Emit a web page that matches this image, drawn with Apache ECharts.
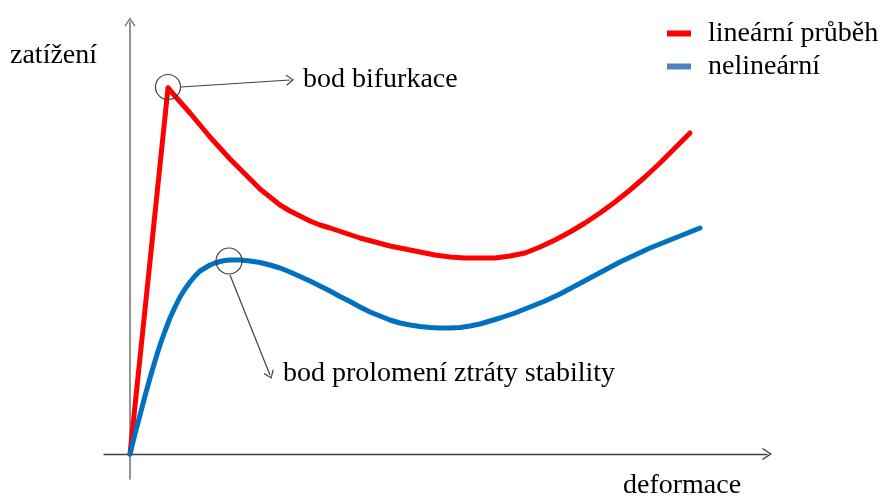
<!DOCTYPE html>
<html>
<head>
<meta charset="utf-8">
<script src="https://cdn.jsdelivr.net/npm/echarts@6/dist/echarts.min.js"></script>
<style>
  html, body { margin: 0; padding: 0; background: #fff; }
  #chart { width: 882px; height: 501px; }
</style>
</head>
<body>
<div id="chart"></div>
<script>
// data coords: x = deformace, y = zatížení (origin at the axes crossing)
const seriesNames = ['lineární průběh', 'nelineární']

// linear path: straight rise to the bifurcation point, then the post-buckling curve
const linearRise = [[0, 0], [38, 366]]
const linearCurve = [
  [38, 366], [45, 358], [52, 350], [60, 341], [70, 329], [80, 317], [90, 306],
  [100, 295], [110, 285], [120, 275], [130, 265], [140, 257], [150, 249],
  [160, 243], [170, 238], [180, 233], [190, 229], [200, 226], [215, 221],
  [230, 216], [245, 212], [260, 208], [275, 205], [290, 202], [305, 199],
  [320, 197], [335, 196], [350, 196], [365, 196], [380, 198], [395, 201],
  [410, 207], [425, 214], [440, 222], [455, 231], [470, 241], [485, 252],
  [500, 264], [515, 277], [530, 291], [545, 306], [560, 321],
]

const nonlinearCurve = [
  [0, 0], [5, 20], [10, 39], [15, 58], [20, 76], [25, 93], [30, 109],
  [35, 123], [40, 136], [45, 147], [50, 157], [55, 165], [60, 172], [65, 178],
  [70, 183], [75, 186], [80, 189], [85, 191], [90, 192.5], [95, 193.5],
  [100, 194], [110, 194], [120, 193], [130, 191.5], [140, 189], [150, 186],
  [160, 182], [170, 177.5], [180, 173], [190, 168], [200, 163], [210, 157.5],
  [220, 152.5], [230, 147], [240, 142], [250, 138], [260, 134], [270, 131],
  [280, 129], [290, 127.5], [300, 126.5], [310, 126], [320, 126], [330, 126.5],
  [340, 128], [350, 130], [360, 133], [370, 136], [385, 141], [400, 147],
  [415, 153], [430, 160], [445, 168], [460, 176], [475, 184], [490, 192],
  [505, 199], [520, 206], [535, 212], [550, 218], [570, 226],
]

const labels = {
  yName: 'zatížení',
  xName: 'deformace',
  bifurcation: 'bod bifurkace',
  snapThrough: 'bod prolomení ztráty stability',
}

const serif = '"Liberation Serif", "DejaVu Serif", serif'
const chevron = 'path://M6,0 L12,9 L10.8,9.8 L6,2.4 L1.2,9.8 L0,9 Z'
const ink = '#404040'
const red = '#ff0000'
const blue = '#0070c0'

const chart = echarts.init(document.getElementById('chart'))

const redLine = { color: red, width: 5, cap: 'round', join: 'round' }

chart.setOption({
  animation: false,
  grid: { left: 104, right: 115, top: 22, bottom: 22 },
  xAxis: {
    type: 'value',
    min: -26,
    max: 637,
    axisLine: {
      onZero: true,
      lineStyle: { color: ink, width: 1.3 },
      symbol: ['none', chevron],
      symbolSize: [13, 10],
    },
    axisTick: { show: false },
    axisLabel: { show: false },
    splitLine: { show: false },
  },
  yAxis: {
    type: 'value',
    min: -25,
    max: 432,
    axisLine: {
      onZero: true,
      lineStyle: { color: '#707070', width: 1.5 },
      symbol: ['none', chevron],
      symbolSize: [12, 9],
    },
    axisTick: { show: false },
    axisLabel: { show: false },
    splitLine: { show: false },
  },
  legend: {
    left: 662,
    top: 12,
    orient: 'vertical',
    icon: 'rect',
    itemWidth: 24,
    itemHeight: 6,
    itemGap: 0,
    data: [
      { name: seriesNames[0], itemStyle: { color: red } },
      { name: seriesNames[1], itemStyle: { color: '#4f81bd' } },
    ],
    textStyle: {
      fontFamily: serif,
      fontSize: 28,
      lineHeight: 33,
      color: '#000',
      padding: [0, 0, 0, 12],
    },
  },
  series: [
    {
      name: seriesNames[0],
      type: 'line',
      data: linearRise,
      showSymbol: false,
      lineStyle: redLine,
      itemStyle: { color: red },
    },
    {
      name: seriesNames[0],
      type: 'line',
      data: linearCurve,
      showSymbol: false,
      lineStyle: redLine,
      itemStyle: { color: red },
      markPoint: {
        symbol: 'circle',
        symbolSize: 25,
        label: { show: false },
        itemStyle: { color: 'rgba(0,0,0,0)', borderColor: ink, borderWidth: 1.2 },
        data: [{ coord: [38, 367] }],
      },
      markLine: {
        silent: true,
        symbol: ['none', chevron],
        symbolSize: [11, 8],
        label: { show: false },
        lineStyle: { color: ink, width: 1.2, type: 'solid' },
        data: [[{ coord: [51, 367] }, { coord: [160, 374] }]],
      },
    },
    {
      name: seriesNames[1],
      type: 'line',
      data: nonlinearCurve,
      showSymbol: false,
      lineStyle: { color: blue, width: 5, cap: 'round', join: 'round' },
      itemStyle: { color: blue },
      markPoint: {
        symbol: 'circle',
        symbolSize: 26,
        label: { show: false },
        itemStyle: { color: 'rgba(0,0,0,0)', borderColor: ink, borderWidth: 1.2 },
        data: [{ coord: [99, 193] }],
      },
      markLine: {
        silent: true,
        symbol: ['none', chevron],
        symbolSize: [11, 8],
        label: { show: false },
        lineStyle: { color: ink, width: 1.2, type: 'solid' },
        data: [[{ coord: [100, 179] }, { coord: [140, 79] }]],
      },
    },
  ],
  graphic: [
    { type: 'text', left: 10, top: 42, style: { text: labels.yName, font: '28px ' + serif, fill: '#000' } },
    { type: 'text', left: 623, top: 472, style: { text: labels.xName, font: '28px ' + serif, fill: '#000' } },
    { type: 'text', left: 303, top: 66, style: { text: labels.bifurcation, font: '28px ' + serif, fill: '#000' } },
    { type: 'text', left: 283, top: 360, style: { text: labels.snapThrough, font: '28px ' + serif, fill: '#000' } },
  ],
})
</script>
</body>
</html>
